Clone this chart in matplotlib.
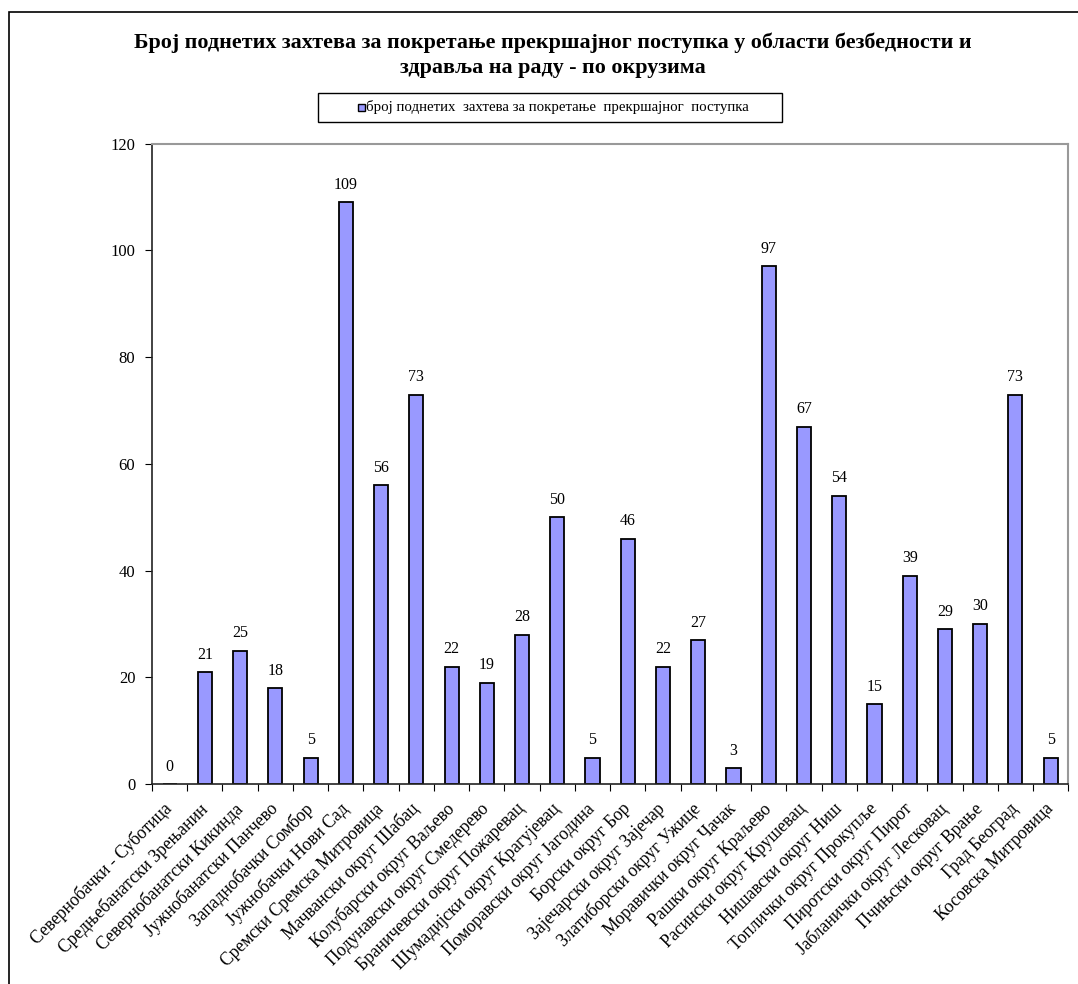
import matplotlib.pyplot as plt
import numpy as np
from matplotlib.patches import Rectangle

plt.rcParams['font.family'] = ['Liberation Serif', 'DejaVu Serif']

okruzi = [
    'Севернобачки - Суботица', 'Средњебанатски Зрењанин', 'Севернобанатски Кикинда',
    'Јужнобанатски Панчево', 'Западнобачки Сомбор', 'Јужнобачки Нови Сад',
    'Сремски Сремска Митровица', 'Мачвански округ Шабац', 'Колубарски округ Ваљево',
    'Подунавски округ Смедерево', 'Браничевски округ Пожаревац', 'Шумадијски округ Крагујевац',
    'Поморавски округ Јагодина', 'Борски округ Бор', 'Зајечарски округ Зајечар',
    'Златиборски округ Ужице', 'Моравички округ Чачак', 'Рашки округ Краљево',
    'Расински округ Крушевац', 'Нишавски округ Ниш', 'Топлички округ Прокупље',
    'Пиротски округ Пирот', 'Јабланички округ Лесковац', 'Пчињски округ Врање',
    'Град Београд', 'Косовска Митровица',
]
zahtevi = [0, 21, 25, 18, 5, 109, 56, 73, 22, 19, 28, 50, 5, 46, 22, 27, 3, 97,
           67, 54, 15, 39, 29, 30, 73, 5]
legenda = 'број поднетих  захтева за покретање  прекршајног  поступка'

W, H = 1078, 984
fig = plt.figure(figsize=(W / 100, H / 100), dpi=100)
ax = fig.add_axes([0.141, 0.203, 0.850, 0.651])

# okvir oko cele slike
fig.patches.append(Rectangle((9 / W, -0.1), 1.2, 1.1 - 12 / H, transform=fig.transFigure,
                             fill=False, edgecolor='black', linewidth=1.2))

x = np.arange(len(okruzi))
ax.bar(x, zahtevi, width=0.4, color='#9999FF', edgecolor='black', linewidth=1.3)

for xi, v in zip(x, zahtevi):
    ax.text(xi, v + 1.8, str(v), ha='center', va='bottom', fontsize=11.5)

ax.set_xlim(-0.5, len(okruzi) - 0.5)
ax.set_ylim(0, 120)
ax.set_yticks(range(0, 121, 20))
ax.tick_params(axis='y', labelsize=12, direction='out', length=5, pad=7)
ax.set_xticks(np.arange(-0.5, len(okruzi), 1))
ax.set_xticklabels([])
ax.tick_params(axis='x', direction='out', length=5)
ax.set_xticks(x, minor=True)
ax.set_xticklabels(okruzi, minor=True, rotation=45, ha='right', va='center',
                   rotation_mode='anchor', fontsize=12.7)
ax.tick_params(axis='x', which='minor', length=0, pad=16)

for s in ['left', 'bottom']:
    ax.spines[s].set_color('#222222')
    ax.spines[s].set_linewidth(1.2)
for s in ['top', 'right']:
    ax.spines[s].set_color('#999999')
    ax.spines[s].set_linewidth(1.5)

fig.text(553 / W, 1 - 55 / H,
         'Број поднетих захтева за покретање прекршајног поступка у области безбедности и\nздравља на раду - по окрузима',
         ha='center', va='center', fontsize=15.8, fontweight='bold', linespacing=1.3)

# legenda kao u Excelu
fig.patches.append(Rectangle((318 / W, 1 - 122 / H), 464 / W, 29 / H, transform=fig.transFigure,
                             facecolor='white', edgecolor='black', linewidth=1.0))
fig.patches.append(Rectangle((358 / W, 1 - 111 / H), 7 / W, 7 / H, transform=fig.transFigure,
                             facecolor='#9999FF', edgecolor='black', linewidth=1.0))
fig.text(366 / W, 1 - 107.5 / H, legenda, ha='left', va='center', fontsize=10.7)

fig.savefig('out.png', dpi=100)
